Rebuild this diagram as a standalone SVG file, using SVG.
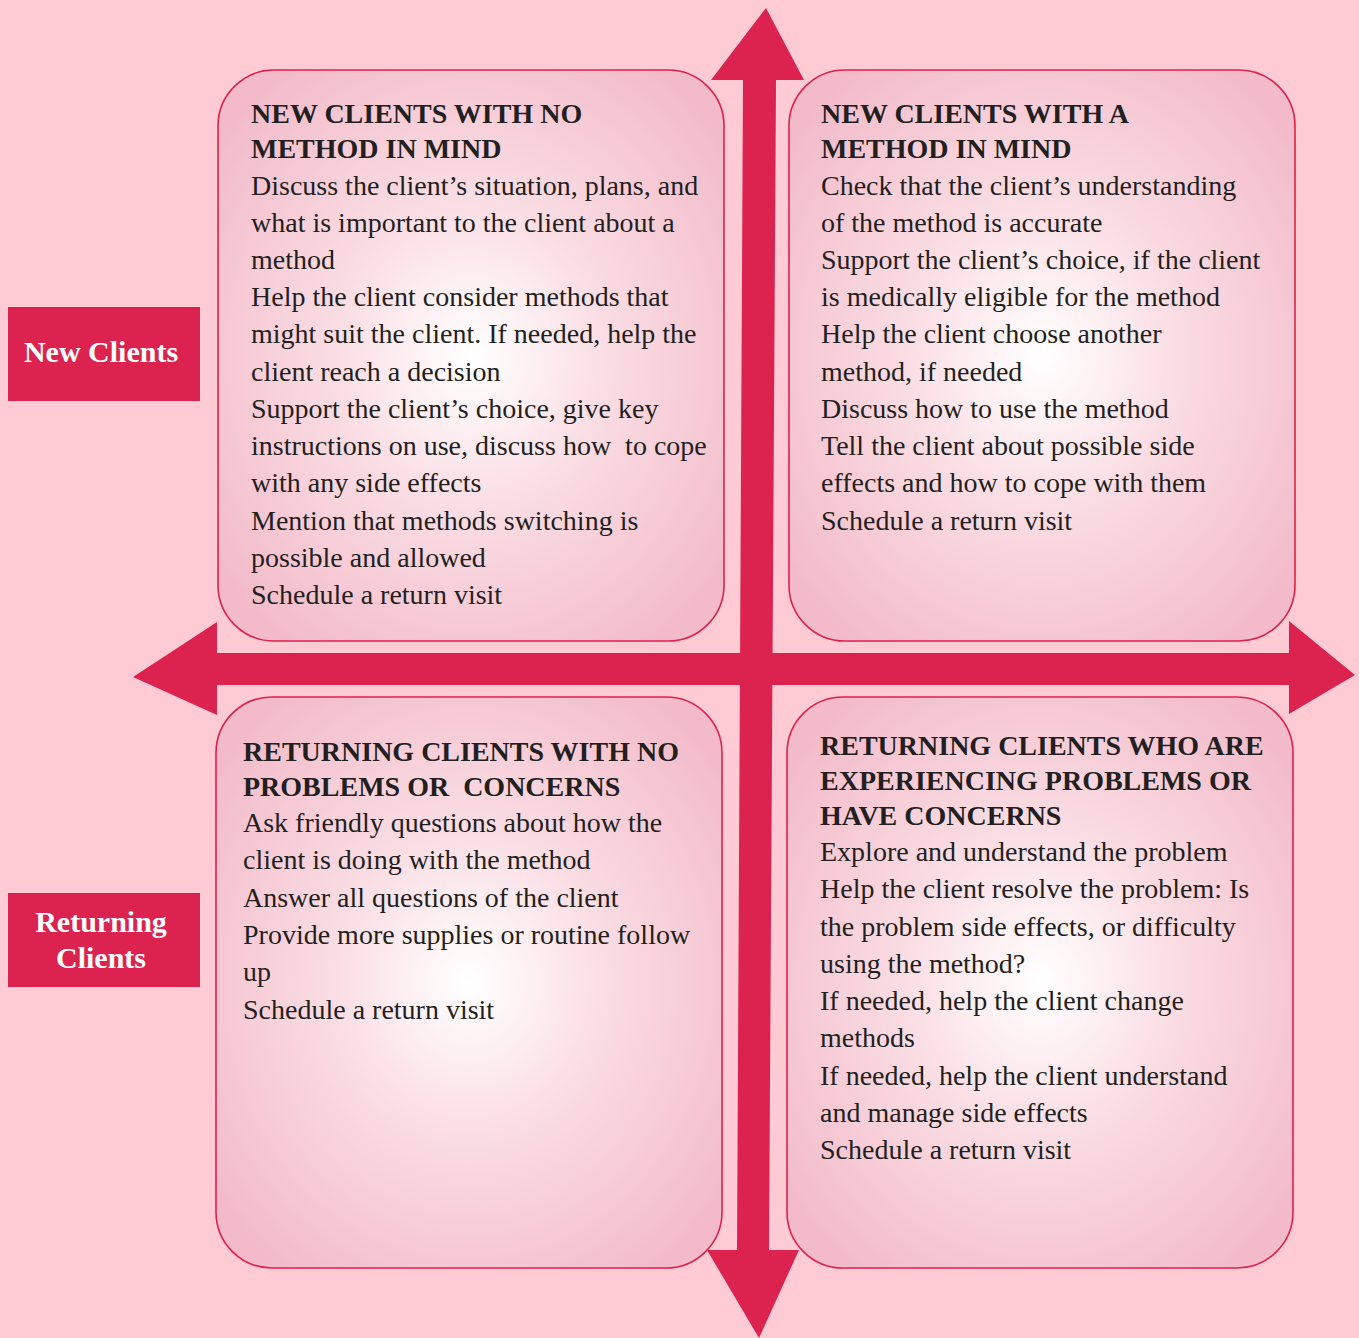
<svg xmlns="http://www.w3.org/2000/svg" width="1359" height="1338" viewBox="0 0 1359 1338">
<defs>
<radialGradient id="g" cx="50%" cy="50%" r="62%">
<stop offset="0" stop-color="#FFFFFF"/>
<stop offset="0.45" stop-color="#FADCE3"/>
<stop offset="1" stop-color="#F3BBCA"/>
</radialGradient>
<style>
.box{fill:url(#g);stroke:#E0214C;stroke-width:1.6}
.arr{fill:#DC2350}
.lab{fill:#DC2350}
.h{font-family:"Liberation Serif",serif;font-weight:bold;font-size:28px;fill:#231F20}
.b{font-family:"Liberation Serif",serif;font-size:28px;fill:#231F20}
.w{font-family:"Liberation Serif",serif;font-weight:bold;font-size:30px;fill:#FFFFFF;text-anchor:middle}
</style>
</defs>
<rect width="1359" height="1338" fill="#FECBD4"/>

<g id="quad-tl">
<rect class="box" x="218" y="70" width="506" height="571" rx="56" ry="56"/>
<text class="h" x="251" y="123">NEW CLIENTS WITH NO</text>
<text class="h" x="251" y="158">METHOD IN MIND</text>
<text class="b" x="251" y="195">Discuss the client’s situation, plans, and</text>
<text class="b" x="251" y="232">what is important to the client about a</text>
<text class="b" x="251" y="269">method</text>
<text class="b" x="251" y="306">Help the client consider methods that</text>
<text class="b" x="251" y="343">might suit the client. If needed, help the</text>
<text class="b" x="251" y="381">client reach a decision</text>
<text class="b" x="251" y="418">Support the client’s choice, give key</text>
<text class="b" x="251" y="455" xml:space="preserve">instructions on use, discuss how  to cope</text>
<text class="b" x="251" y="492">with any side effects</text>
<text class="b" x="251" y="530">Mention that methods switching is</text>
<text class="b" x="251" y="567">possible and allowed</text>
<text class="b" x="251" y="604">Schedule a return visit</text>
</g>

<g id="quad-tr">
<rect class="box" x="789" y="70" width="506" height="571" rx="56" ry="56"/>
<text class="h" x="821" y="123">NEW CLIENTS WITH A</text>
<text class="h" x="821" y="158">METHOD IN MIND</text>
<text class="b" x="821" y="195">Check that the client’s understanding</text>
<text class="b" x="821" y="232">of the method is accurate</text>
<text class="b" x="821" y="269">Support the client’s choice, if the client</text>
<text class="b" x="821" y="306">is medically eligible for the method</text>
<text class="b" x="821" y="343">Help the client choose another</text>
<text class="b" x="821" y="381">method, if needed</text>
<text class="b" x="821" y="418">Discuss how to use the method</text>
<text class="b" x="821" y="455">Tell the client about possible side</text>
<text class="b" x="821" y="492">effects and how to cope with them</text>
<text class="b" x="821" y="530">Schedule a return visit</text>
</g>

<g id="quad-bl">
<rect class="box" x="216" y="697" width="506" height="571" rx="56" ry="56"/>
<text class="h" x="243" y="761">RETURNING CLIENTS WITH NO</text>
<text class="h" x="243" y="796" xml:space="preserve">PROBLEMS OR  CONCERNS</text>
<text class="b" x="243" y="832">Ask friendly questions about how the</text>
<text class="b" x="243" y="869">client is doing with the method</text>
<text class="b" x="243" y="907">Answer all questions of the client</text>
<text class="b" x="243" y="944">Provide more supplies or routine follow</text>
<text class="b" x="243" y="981">up</text>
<text class="b" x="243" y="1019">Schedule a return visit</text>
</g>

<g id="quad-br">
<rect class="box" x="787" y="697" width="506" height="571" rx="56" ry="56"/>
<text class="h" x="820" y="755">RETURNING CLIENTS WHO ARE</text>
<text class="h" x="820" y="790">EXPERIENCING PROBLEMS OR</text>
<text class="h" x="820" y="825">HAVE CONCERNS</text>
<text class="b" x="820" y="861">Explore and understand the problem</text>
<text class="b" x="820" y="898">Help the client resolve the problem: Is</text>
<text class="b" x="820" y="936">the problem side effects, or difficulty</text>
<text class="b" x="820" y="973">using the method?</text>
<text class="b" x="820" y="1010">If needed, help the client change</text>
<text class="b" x="820" y="1047">methods</text>
<text class="b" x="820" y="1085">If needed, help the client understand</text>
<text class="b" x="820" y="1122">and manage side effects</text>
<text class="b" x="820" y="1159">Schedule a return visit</text>
</g>

<g id="connectors">
<polygon class="arr" points="743,80 711,80 766,8 804,80 776,80 769,1250 799,1250 759,1338 707,1250 737,1250"/>
<polygon class="arr" points="217,653 217,622 133,677 217,715 217,685 1289,685 1289,714 1355,675 1289,621 1289,653"/>
</g>

<g id="label-new">
<rect class="lab" x="8" y="307" width="192" height="94"/>
<text class="w" x="101" y="362">New Clients</text>
</g>

<g id="label-returning">
<rect class="lab" x="8" y="893" width="192" height="94"/>
<text class="w" x="101" y="932">Returning</text>
<text class="w" x="101" y="968">Clients</text>
</g>
</svg>
